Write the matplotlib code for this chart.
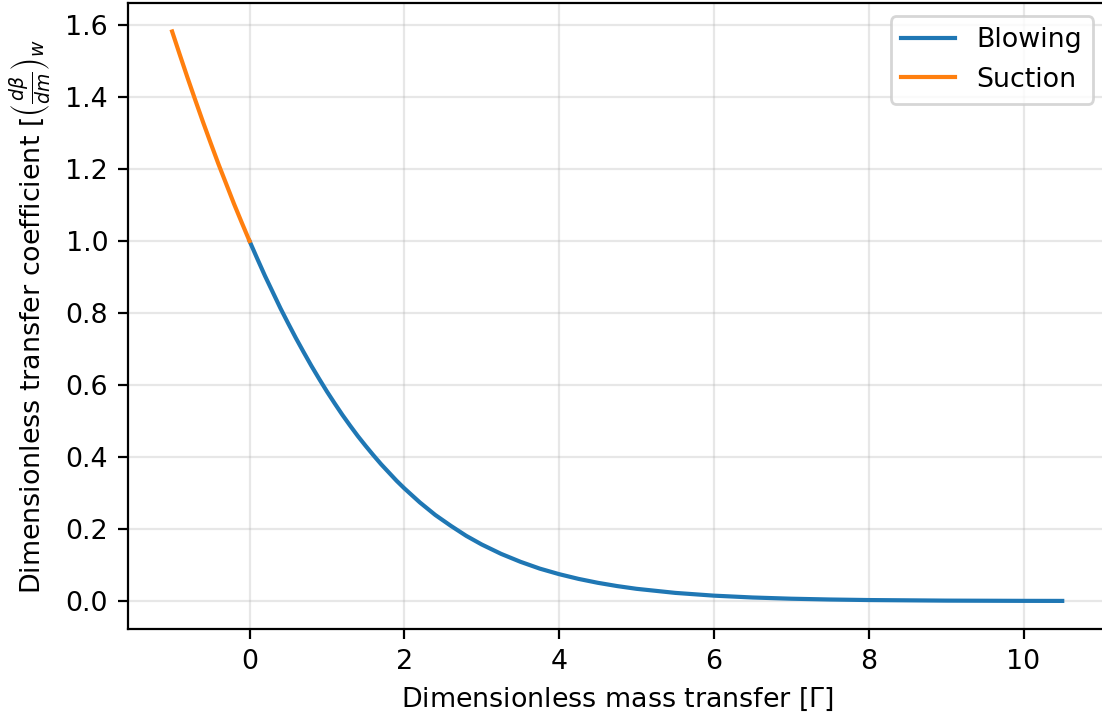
import matplotlib
matplotlib.use("Agg")
import matplotlib.pyplot as plt

plt.rcParams["font.size"] = 9.7

# transfer coefficient read at sample values of the mass transfer parameter
gammaSuction = [-1.0, -0.9, -0.8, -0.7, -0.6, -0.5, -0.4, -0.3, -0.2, -0.1, 0.0]
coeffSuction = [1.582, 1.517, 1.453, 1.391, 1.330, 1.271, 1.213, 1.158, 1.103,
                1.051, 1.0]

gammaBlowing = [0.0, 0.1, 0.2, 0.3, 0.4, 0.5, 0.6, 0.7, 0.8, 0.9,
                1.0, 1.1, 1.2, 1.3, 1.4, 1.5, 1.6, 1.7, 1.8, 1.9,
                2.0, 2.2, 2.4, 2.6, 2.8, 3.0, 3.25, 3.5, 3.75, 4.0,
                4.25, 4.5, 4.75, 5.0, 5.5, 6.0, 6.5, 7.0, 7.5, 8.0,
                9.0, 10.0, 10.5]
coeffBlowing = [1.0, 0.951, 0.903, 0.858, 0.813, 0.771, 0.730, 0.691, 0.653, 0.617,
                0.582, 0.549, 0.517, 0.487, 0.458, 0.431, 0.405, 0.380, 0.357, 0.334,
                0.313, 0.274, 0.239, 0.209, 0.181, 0.157, 0.131, 0.109, 0.090, 0.0746,
                0.0615, 0.0506, 0.0415, 0.0339, 0.0226, 0.0149, 0.0098, 0.0064, 0.0042,
                0.0027, 0.0011, 0.00045, 0.0003]

fig = plt.figure(figsize=(5.51, 3.585), dpi=200)
ax = fig.add_axes([0.1158, 0.1222, 0.8885, 0.8736])

ax.plot(gammaBlowing, coeffBlowing, label="Blowing")
ax.plot(gammaSuction, coeffSuction, label="Suction")

ax.set_xlabel(r"Dimensionless mass transfer [$\Gamma$]")
ax.set_ylabel(r"Dimensionless transfer coefficient [$\left(\frac{d\beta}{dm}\right)_w$")
ax.grid(alpha=0.3)
ax.legend(loc="upper right")

fig.savefig("out.png", dpi=200)
